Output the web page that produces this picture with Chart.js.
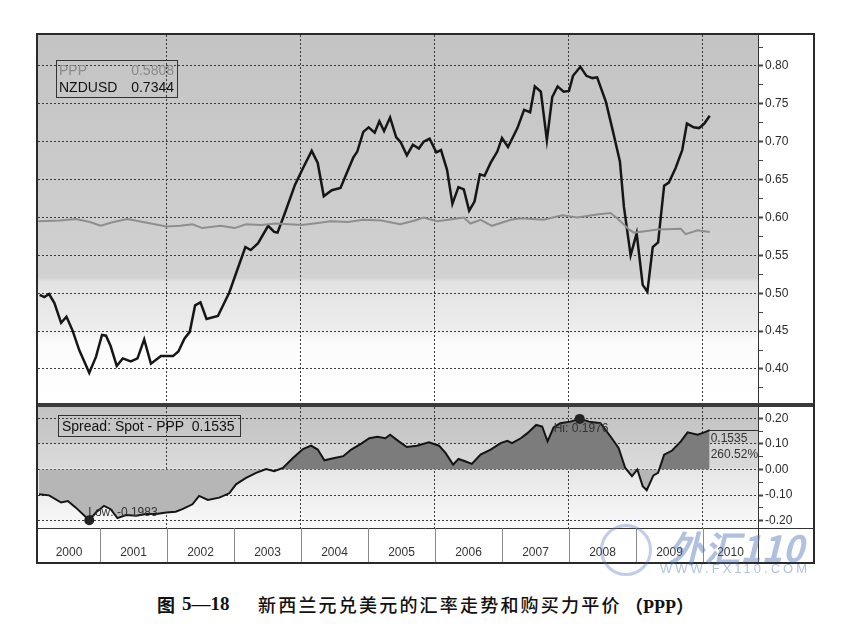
<!DOCTYPE html>
<html lang="zh">
<head>
<meta charset="utf-8">
<title>NZDUSD vs PPP</title>
<script src="https://cdn.jsdelivr.net/npm/chart.js@4.4.1/dist/chart.umd.min.js"></script>
<style>
    body { margin: 0; width: 862px; height: 639px; background: #fff; position: relative; overflow: hidden; font-family: "Liberation Sans", Arial, sans-serif; }
    #frame { position: absolute; left: 36px; top: 33px; width: 779px; height: 531px; box-sizing: border-box; border: 2px solid #2a2a2a; }
    canvas { position: absolute; left: 38px; }
    #graphic-top { top: 35px; }
    #graphic-spread { top: 407px; }
    #sep { position: absolute; left: 38px; top: 403px; width: 775px; height: 4px; background: #3a3a3a; }
    .box { position: absolute; border: 1px solid #333; font-size: 14px; line-height: 17px; color: #111; box-sizing: border-box; }
    .row { display: flex; justify-content: space-between; padding: 0 3px 0 2px; }
    .row.ppp { color: #8a8a8a; }
    #legend-top { left: 56px; top: 60px; width: 122px; height: 38px; padding-top: 1px; }
    #legend-spread { left: 58px; top: 415px; width: 183px; height: 22px; padding: 2px 0 0 3px; white-space: pre; }
    #caption { position: absolute; top: 591px; left: 157px; height: 24px; line-height: 24px; color: #111; white-space: pre; }
    #caption span { position: absolute; top: 0; }
    #caption .fig-zh { left: 0; font: bold 18px "Noto Sans CJK SC", sans-serif; }
    #caption .fig-no { left: 25px; top: 2px; font: bold 19px "Liberation Serif", serif; }
    #caption .title { left: 101px; font: 500 18px "Noto Sans CJK SC", sans-serif; letter-spacing: 2.2px; }
    #caption .paren { left: 468px; top: 1px; font: bold 18px "Liberation Serif", "Noto Sans CJK SC", serif; }
    .wm { position: absolute; color: rgba(80, 115, 185, 0.45); }
    #wm-text { left: 668px; top: 520px; font: italic bold 36px "Noto Sans CJK SC", sans-serif; }
    #wm-url { left: 660px; top: 561px; font-size: 13px; letter-spacing: 3px; }
    #wm-logo { left: 600px; top: 524px; width: 46px; height: 46px; border-radius: 50%; border: 3px solid rgba(80, 115, 185, 0.35); }
</style>
</head>
<body>
<div id="frame"></div>
<canvas id="graphic-top" width="775" height="368"></canvas>
<div id="sep"></div>
<canvas id="graphic-spread" width="775" height="155"></canvas>

<div class="box" id="legend-top">
    <div class="row ppp"><span>PPP</span><span id="ppp-last"></span></div>
    <div class="row"><span>NZDUSD</span><span id="spot-last"></span></div>
</div>
<div class="box" id="legend-spread">Spread: Spot - PPP  <span id="spread-last"></span></div>

<div class="wm" id="wm-logo"></div>
<div class="wm" id="wm-text">外汇110</div>
<div class="wm" id="wm-url">WWW.FX110.COM</div>

<div id="caption"><span class="fig-zh">图</span><span class="fig-no">5—18</span><span class="title">新西兰元兑美元的汇率走势和购买力平价</span><span class="paren">（PPP）</span></div>

<script>
// NZDUSD spot (x = decimal year)
const spotX = [2000.10, 2000.17, 2000.24, 2000.32, 2000.42, 2000.50, 2000.59, 2000.69, 2000.84, 2000.94,
    2001.03, 2001.09, 2001.16, 2001.25, 2001.34, 2001.46, 2001.56, 2001.66, 2001.76, 2001.91,
    2002.09, 2002.17, 2002.26, 2002.34, 2002.42, 2002.50, 2002.59, 2002.76, 2002.93,
    2003.03, 2003.17, 2003.25, 2003.36, 2003.51, 2003.60, 2003.65, 2003.76, 2003.91,
    2004.04, 2004.16, 2004.25, 2004.34, 2004.46, 2004.59, 2004.68, 2004.78, 2004.84, 2004.93,
    2005.01, 2005.10, 2005.17, 2005.24, 2005.33, 2005.42, 2005.49, 2005.58, 2005.67, 2005.76, 2005.83, 2005.92,
    2006.02, 2006.09, 2006.18, 2006.26, 2006.35, 2006.43, 2006.51, 2006.59, 2006.67, 2006.74, 2006.83, 2006.93,
    2007.00, 2007.09, 2007.23, 2007.33, 2007.42, 2007.49, 2007.58, 2007.67, 2007.75, 2007.83, 2007.92,
    2008.00, 2008.06, 2008.17, 2008.26, 2008.35, 2008.42, 2008.55, 2008.65, 2008.76, 2008.82, 2008.92,
    2009.01, 2009.10, 2009.17, 2009.25, 2009.33, 2009.42, 2009.49, 2009.59, 2009.69, 2009.76, 2009.86, 2009.94,
    2010.02, 2010.10];
const spotY = [0.498, 0.495, 0.499, 0.487, 0.461, 0.469, 0.451, 0.425, 0.395, 0.416,
    0.445, 0.444, 0.430, 0.404, 0.414, 0.410, 0.414, 0.439, 0.407, 0.417,
    0.417, 0.423, 0.440, 0.449, 0.484, 0.488, 0.466, 0.470, 0.501,
    0.526, 0.561, 0.557, 0.566, 0.589, 0.581, 0.580, 0.606, 0.643,
    0.667, 0.688, 0.672, 0.628, 0.636, 0.639, 0.658, 0.679, 0.687, 0.713,
    0.719, 0.712, 0.727, 0.714, 0.732, 0.706, 0.699, 0.682, 0.696, 0.691, 0.700, 0.704,
    0.686, 0.689, 0.663, 0.618, 0.640, 0.637, 0.609, 0.621, 0.657, 0.655, 0.672, 0.687,
    0.705, 0.693, 0.718, 0.742, 0.739, 0.773, 0.766, 0.702, 0.759, 0.773, 0.766,
    0.767, 0.787, 0.799, 0.787, 0.784, 0.785, 0.753, 0.716, 0.674, 0.614, 0.550,
    0.579, 0.511, 0.502, 0.561, 0.567, 0.642, 0.646, 0.665, 0.689, 0.724, 0.719, 0.718,
    0.724, 0.7344];

// PPP fair value
const pppX = [2000.08, 2000.40, 2000.64, 2000.85, 2001.01, 2001.20, 2001.41, 2001.70, 2001.99,
    2002.20, 2002.38, 2002.53, 2002.80, 2003.01, 2003.18, 2003.40, 2003.63,
    2004.01, 2004.20, 2004.44, 2004.70, 2004.93, 2005.20, 2005.48, 2005.70, 2005.83,
    2006.03, 2006.20, 2006.43, 2006.53, 2006.68, 2006.85, 2007.13, 2007.28, 2007.62, 2007.90,
    2008.12, 2008.42, 2008.62, 2008.72, 2008.90, 2008.97, 2009.32, 2009.67, 2009.74, 2009.92, 2010.10];
const pppY = [0.595, 0.596, 0.598, 0.594, 0.589, 0.594, 0.598, 0.593, 0.588,
    0.589, 0.591, 0.586, 0.589, 0.586, 0.591, 0.590, 0.592,
    0.590, 0.592, 0.595, 0.594, 0.597, 0.596, 0.591, 0.596, 0.600,
    0.595, 0.597, 0.600, 0.592, 0.597, 0.589, 0.597, 0.599, 0.597, 0.603,
    0.600, 0.604, 0.606, 0.599, 0.584, 0.580, 0.584, 0.585, 0.578, 0.583, 0.5808];

// Spread: Spot - PPP
const spreadX = [2000.09, 2000.24, 2000.42, 2000.52, 2000.64, 2000.84, 2000.94,
    2001.06, 2001.16, 2001.26, 2001.39, 2001.54, 2001.69, 2001.84, 2001.99,
    2002.13, 2002.23, 2002.38, 2002.48, 2002.61, 2002.78, 2002.93,
    2003.03, 2003.18, 2003.33, 2003.48, 2003.60, 2003.73, 2003.88,
    2004.03, 2004.15, 2004.25, 2004.35, 2004.50, 2004.63, 2004.75, 2004.90,
    2005.02, 2005.14, 2005.26, 2005.33, 2005.46, 2005.58, 2005.73, 2005.91,
    2006.06, 2006.16, 2006.27, 2006.35, 2006.45, 2006.55, 2006.68, 2006.83, 2006.98,
    2007.08, 2007.15, 2007.28, 2007.38, 2007.51, 2007.60, 2007.68, 2007.77, 2007.87,
    2008.02, 2008.16, 2008.30, 2008.47, 2008.62, 2008.74, 2008.84, 2008.94,
    2009.02, 2009.10, 2009.16, 2009.26, 2009.33, 2009.42, 2009.54, 2009.67, 2009.77, 2009.92,
    2010.02, 2010.10];
const spreadY = [-0.097, -0.101, -0.129, -0.123, -0.149, -0.1983, -0.168,
    -0.142, -0.155, -0.190, -0.178, -0.181, -0.174, -0.174, -0.168,
    -0.165, -0.155, -0.136, -0.103, -0.119, -0.110, -0.093,
    -0.058, -0.033, -0.013, 0.002, -0.007, 0.006, 0.045,
    0.080, 0.093, 0.078, 0.036, 0.045, 0.052, 0.078, 0.101,
    0.122, 0.128, 0.122, 0.136, 0.110, 0.088, 0.093, 0.106,
    0.093, 0.064, 0.019, 0.041, 0.032, 0.022, 0.058, 0.078, 0.103,
    0.112, 0.103, 0.122, 0.142, 0.174, 0.168, 0.110, 0.164, 0.181,
    0.187, 0.1976, 0.187, 0.181, 0.129, 0.084, 0.006, -0.026,
    0.000, -0.065, -0.081, -0.023, -0.013, 0.058, 0.074, 0.110, 0.145, 0.136,
    0.145, 0.1535];
const spreadPct = '260.52%';

const years = [2000, 2001, 2002, 2003, 2004, 2005, 2006, 2007, 2008, 2009, 2010];
const topTicks = { min: 0.3551, max: 0.8409, step: 0.025, major: 0.05 };
const spreadTicks = { min: -0.2285, max: 0.2441, step: 0.05, major: 0.1 };
const X_MIN = 2000.075, X_MAX = 2010.821;

document.addEventListener('DOMContentLoaded', function () {
    const FONT = '"Liberation Sans", Arial, sans-serif';
    const last = arr => arr[arr.length - 1];
    const points = (xs, ys) => xs.map((x, i) => ({ x, y: ys[i] }));
    const isMajor = (v, major) => Math.abs(v / major - Math.round(v / major)) < 1e-6;

    document.getElementById('ppp-last').textContent = last(pppY).toFixed(4);
    document.getElementById('spot-last').textContent = last(spotY).toFixed(4);
    document.getElementById('spread-last').textContent = last(spreadY).toFixed(4);

    const panelBackground = stops => ({
        id: 'panelBackground',
        beforeDraw(chart) {
            const { ctx, chartArea: a } = chart;
            const g = ctx.createLinearGradient(0, a.top, 0, a.bottom);
            stops.forEach(([p, c]) => g.addColorStop(p, c));
            ctx.save();
            ctx.fillStyle = g;
            ctx.fillRect(a.left, a.top, a.right - a.left, a.bottom - a.top);
            ctx.restore();
        }
    });

    const xAxis = {
        type: 'linear',
        min: X_MIN,
        max: X_MAX,
        afterFit: s => { s.height = 0; s.paddingLeft = 0; s.paddingRight = 0; },
        ticks: { display: false, stepSize: 2, includeBounds: false },
        grid: { color: '#3a3a3a', drawTicks: false },
        border: { display: false, dash: [2, 2] }
    };

    const yAxis = t => ({
        position: 'right',
        min: t.min,
        max: t.max,
        afterFit: s => { s.width = 55; s.paddingTop = 0; s.paddingBottom = 0; },
        ticks: {
            stepSize: t.step,
            includeBounds: false,
            autoSkip: false,
            padding: 2,
            color: '#2a2a2a',
            font: { family: FONT, size: 12 },
            callback: v => isMajor(v, t.major) ? v.toFixed(2) : ''
        },
        grid: {
            color: c => isMajor(c.tick.value, t.major) ? '#3a3a3a' : 'transparent',
            tickColor: '#444',
            tickWidth: c => isMajor(c.tick.value, t.major) ? 2 : 1,
            tickLength: 5
        },
        border: { display: true, color: '#333', width: 1, dash: [2, 2] }
    });

    new Chart(document.getElementById('graphic-top').getContext('2d'), {
        type: 'line',
        data: {
            datasets: [
                {
                    label: 'PPP',
                    data: points(pppX, pppY),
                    borderColor: '#8e8e8e',
                    borderWidth: 2,
                    pointRadius: 0
                },
                {
                    label: 'NZDUSD',
                    data: points(spotX, spotY),
                    borderColor: '#161616',
                    borderWidth: 2.5,
                    pointRadius: 0
                }
            ]
        },
        options: {
            responsive: false,
            animation: false,
            layout: { padding: 0 },
            plugins: { legend: { display: false }, tooltip: { enabled: false } },
            scales: { x: xAxis, y: yAxis(topTicks) }
        },
        plugins: [panelBackground([
            [0, '#c4c4c4'], [0.4, '#cbcbcb'], [0.66, '#d2d2d2'], [0.67, '#e2e2e2'],
            [0.8, '#ededed'], [0.83, '#fbfbfb'], [1, '#ffffff']
        ])]
    });

    // Hi / Low dots, end value tag
    const spreadMarks = {
        id: 'spreadMarks',
        afterDatasetsDraw(chart) {
            const { ctx, chartArea: a, scales: { x, y } } = chart;
            const hi = spreadY.indexOf(Math.max(...spreadY));
            const lo = spreadY.indexOf(Math.min(...spreadY));
            const n = spreadY.length - 1;
            ctx.save();
            ctx.font = '12px ' + FONT;
            ctx.textBaseline = 'middle';

            const hx = x.getPixelForValue(spreadX[hi]), hy = y.getPixelForValue(spreadY[hi]);
            const lx = x.getPixelForValue(spreadX[lo]), ly = y.getPixelForValue(spreadY[lo]);
            ctx.fillStyle = '#222';
            [[hx, hy], [lx, ly]].forEach(([px, py]) => {
                ctx.beginPath();
                ctx.arc(px, py, 5, 0, Math.PI * 2);
                ctx.fill();
            });
            ctx.fillStyle = '#333';
            ctx.fillText('Hi: ' + spreadY[hi].toFixed(4), hx - 26, hy + 10);
            ctx.fillText('Low: ' + spreadY[lo].toFixed(4), lx - 1, ly - 8);

            const ex = x.getPixelForValue(spreadX[n]), ey = y.getPixelForValue(spreadY[n]);
            ctx.strokeStyle = '#333';
            ctx.lineWidth = 1;
            ctx.beginPath();
            ctx.moveTo(ex, Math.round(ey) + 0.5);
            ctx.lineTo(a.right, Math.round(ey) + 0.5);
            ctx.stroke();
            ctx.fillText(spreadY[n].toFixed(4), ex + 1, ey + 8);
            ctx.fillText(spreadPct, ex + 1, ey + 24);
            ctx.restore();
        }
    };

    // year cells below the spread panel
    const yearRow = {
        id: 'yearRow',
        afterDraw(chart) {
            const { ctx, chartArea: a, scales: { x } } = chart;
            const top = a.bottom, bottom = chart.height;
            ctx.save();
            ctx.lineWidth = 1;
            ctx.strokeStyle = '#333';
            ctx.beginPath();
            ctx.moveTo(0, top + 0.5);
            ctx.lineTo(chart.width, top + 0.5);
            ctx.moveTo(a.right + 0.5, top);
            ctx.lineTo(a.right + 0.5, bottom);
            ctx.stroke();
            ctx.strokeStyle = '#8a8a8a';
            ctx.fillStyle = '#333';
            ctx.font = '12px ' + FONT;
            ctx.textAlign = 'center';
            ctx.textBaseline = 'middle';
            years.forEach(yr => {
                const l = Math.max(a.left, x.getPixelForValue(yr));
                const r = Math.min(a.right, x.getPixelForValue(yr + 1));
                if (r < a.right) {
                    ctx.beginPath();
                    ctx.moveTo(Math.round(r) + 0.5, top);
                    ctx.lineTo(Math.round(r) + 0.5, bottom);
                    ctx.stroke();
                }
                ctx.fillText(String(yr), (l + r) / 2, bottom - 9);
            });
            ctx.restore();
        }
    };

    new Chart(document.getElementById('graphic-spread').getContext('2d'), {
        type: 'line',
        data: {
            datasets: [
                {
                    label: 'Spread: Spot - PPP',
                    data: points(spreadX, spreadY),
                    borderColor: '#141414',
                    borderWidth: 2,
                    pointRadius: 0,
                    fill: { target: { value: 0 }, above: '#7c7c7c', below: '#b6b6b6' }
                }
            ]
        },
        options: {
            responsive: false,
            animation: false,
            layout: { padding: { top: 0, left: 0, right: 0, bottom: 34 } },
            plugins: { legend: { display: false }, tooltip: { enabled: false } },
            scales: { x: xAxis, y: yAxis(spreadTicks) }
        },
        plugins: [panelBackground([
            [0, '#c3c3c3'], [0.3, '#cacaca'], [0.31, '#d5d5d5'], [0.5, '#d9d9d9'],
            [0.51, '#e6e6e6'], [0.72, '#eeeeee'], [1, '#f9f9f9']
        ]), spreadMarks, yearRow]
    });
});
</script>
</body>
</html>
